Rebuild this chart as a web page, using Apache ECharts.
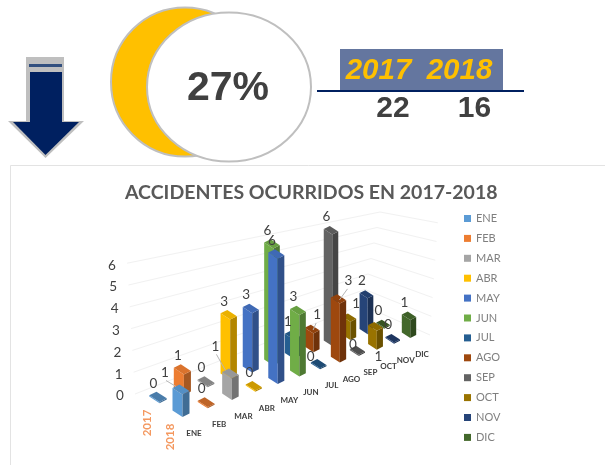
<!DOCTYPE html>
<html><head><meta charset="utf-8">
<style>html,body{margin:0;padding:0;background:#fff}#c{width:605px;height:465px;filter:blur(0.5px)}</style>
<script src="https://cdn.jsdelivr.net/npm/echarts@6/dist/echarts.min.js"></script>
</head><body><div id="c"></div>
<script>
const months = ['ENE','FEB','MAR','ABR','MAY','JUN','JUL','AGO','SEP','OCT','NOV','DIC'];
const years = ['2017','2018'];
const accidents2017 = [0,1,0,3,3,6,1,1,6,1,2,0];
const accidents2018 = [1,0,1,0,6,3,0,3,0,1,0,1];
const yTicks = [0,1,2,3,4,5,6];
const totals = [22,16];
const changeLabel = '27%';
const monthColors = ['#5B9BD5','#ED7D31','#A5A5A5','#FFC000','#4472C4','#70AD47','#255E91','#9E480E','#636363','#997300','#264478','#43682B'];

// label placement overrides, keyed "month-row" (row 1 = 2017, row 0 = 2018): dx, dy, leader line
const labelShift = {
  '7-1':[5,-14,1],'9-1':[7,-14,0],
  '0-0':[-16,-17,1],'2-0':[-15,-27,1],'7-0':[10,-18,1],'6-0':[-8,-7,0],'8-0':[-4.5,-6,0],'9-0':[3,30,0]
};

const chart = echarts.init(document.getElementById('c'));
const GL = 181, GW = 228, GB = 412, UNIT = 22;

function shade(hex, f) {
  const n = parseInt(hex.slice(1), 16);
  return 'rgb(' + [(n >> 16) & 255, (n >> 8) & 255, n & 255].map(c => Math.round(c * f)).join(',') + ')';
}

function project(api, m, row, v) {
  const p = api.coord([m, 0]);
  const t = (p[0] - GL) / GW;
  let x, y, u, s;
  if (row) {
    x = 158 + 225 * (1.21 * t - 0.21 * t * t);
    y = 398 - 0.325 * (x - 158);
    u = 21 - 0.3 * m;
    s = 1.03 - 0.022 * m;
  } else {
    x = 181 + 228 * (1.235 * t - 0.235 * t * t);
    y = 412 - 0.343 * (x - 181);
    u = 22.5 - 0.4 * m;
    s = 1 - 0.014 * m;
  }
  const unitScale = u / UNIT;
  const h = (api.coord([m, 0])[1] - api.coord([m, v])[1]) * unitScale;
  return {x, y, h, s, u};
}

function renderBar(color) {
  return function (params, api) {
    const m = api.value(0), row = api.value(1), v = api.value(2);
    const P = project(api, m, row, v);
    const ax = 7 * P.s, ay = -3.5 * P.s, bx = 10 * P.s, by = 6.5 * P.s;
    const h = Math.max(P.h, 1.2);
    const z2 = Math.round(P.y * 2);
    const L = [P.x - ax/2 - bx/2, P.y - ay/2 - by/2];
    const F = [P.x - ax/2 + bx/2, P.y - ay/2 + by/2];
    const R = [P.x + ax/2 + bx/2, P.y + ay/2 + by/2];
    const B = [P.x + ax/2 - bx/2, P.y + ay/2 - by/2];
    const up = q => [q[0], q[1] - h];
    const dark = shade(color, 0.7);
    const top = shade(color, v === 0 ? 0.8 : 0.92);
    const children = [
      {type:'polygon', z2, shape:{points:[L,F,up(F),up(L)]}, style:{fill:color}},
      {type:'polygon', z2, shape:{points:[F,R,up(R),up(F)]}, style:{fill:dark}},
      {type:'polygon', z2, shape:{points:[up(L),up(F),up(R),up(B)]}, style:{fill:top}}
    ];
    const sh = labelShift[m + '-' + row] || [-4.5, -13.5, 0];
    const lx = P.x + sh[0], ly = P.y - h + sh[1];
    if (sh[2]) {
      children.push({type:'line', z2:2000, shape:{x1:lx + (sh[0]<0?1:-1), y1:ly + 8, x2:P.x - (sh[0]<0?5:-1)*1, y2:P.y - h + (sh[0]<0?-3:1)},
        style:{stroke:'#b5b5b5', lineWidth:1}});
    }
    children.push({type:'text', z2:2001, style:{text:String(v), x:lx, y:ly, textAlign:'center', textVerticalAlign:'middle',
      font:'13.5px Lato', fill:'#404040'}});
    return {type:'group', children};
  };
}

const barSeries = months.map((name, m) => ({
  name, type:'custom', silent:true, clip:false,
  coordinateSystem:'cartesian2d', encode:{x:0, y:2},
  itemStyle:{color:monthColors[m]},
  data:[[m,1,accidents2017[m]],[m,0,accidents2018[m]]],
  renderItem:renderBar(monthColors[m])
}));

const wallSeries = {
  name:'walls', type:'custom', silent:true, clip:false, z:1,
  data:yTicks.map(v => [0, v]), encode:{x:0, y:1},
  renderItem:function (params, api) {
    const v = api.value(1);
    return {type:'polyline', shape:{points:[
      [135 - 1.3*v, 394 - 21.8*v], [362 + 3*v, 305 - 15.5*v], [430 + 1.3*v, 335 - 18.7*v]
    ]}, style:{stroke:'#f1f1f1', lineWidth:1, fill:'none'}};
  }
};

const yTickSeries = {
  name:'yTicks', type:'custom', silent:true, clip:false, z:3,
  data:yTicks.map(v => [0, v]), encode:{x:0, y:1},
  renderItem:function (params, api) {
    const v = api.value(1);
    const y = api.coord([0, v])[1];
    const base = api.coord([0, 0])[1];
    return {type:'text', style:{text:String(v), x:120 - 1.35*v, y:396 - (base - y)*0.99,
      textAlign:'center', textVerticalAlign:'middle', font:'13.5px Lato', fill:'#404040'}};
  }
};

const monthTickSeries = {
  name:'monthTicks', type:'custom', silent:true, clip:false, z:3,
  data:months.map((n, m) => [m, 0]), encode:{x:0, y:1},
  renderItem:function (params, api) {
    const m = api.value(0);
    const P = project(api, m, 0, 0);
    return {type:'text', style:{text:months[m], x:P.x + 13, y:P.y + 21,
      textAlign:'center', textVerticalAlign:'middle', font:'bold 8px Lato', fill:'#404040'}};
  }
};

const yearTickSeries = {
  name:'yearTicks', type:'custom', silent:true, clip:false, z:3,
  data:years.map((n, i) => [i, 0]), encode:{x:0, y:1},
  renderItem:function (params, api) {
    const i = api.value(0);
    const P = project(api, 0, i === 0 ? 1 : 0, 0);
    return {type:'text', x:P.x - 11, y:P.y + 25, rotation:Math.PI/2,
      style:{text:years[i], x:0, y:0, textAlign:'center', textVerticalAlign:'middle', font:'bold 11.5px Lato', fill:'#F4985F'}};
  }
};

const graphics = [
  {type:'rect', shape:{x:10.5,y:165.5,width:600,height:310}, style:{fill:'#fff', stroke:'#e3e3e3', lineWidth:1}, z:-1},
  // arrow
  {type:'polygon', shape:{points:[[26,57],[64,57],[64,121],[84,121],[45.5,158],[8,121],[26,121]]}, style:{fill:'#BFBFBF'}},
  {type:'rect', shape:{x:30,y:72,width:32,height:50}, style:{fill:'#002060'}},
  {type:'rect', shape:{x:29,y:64,width:33,height:3}, style:{fill:'#33507f'}},
  {type:'polygon', shape:{points:[[13,122],[79,122],[45.5,155]]}, style:{fill:'#002060'}},
  // moon
  {type:'ellipse', shape:{cx:185,cy:82,rx:74,ry:74.5}, style:{fill:'#FFC000', stroke:'#BFBFBF', lineWidth:2}},
  {type:'ellipse', shape:{cx:229,cy:87,rx:82,ry:74.5}, style:{fill:'#fff', stroke:'#BFBFBF', lineWidth:2}},
  {type:'text', style:{text:changeLabel, x:228, y:89, textAlign:'center', textVerticalAlign:'middle',
    font:'bold 41px "Liberation Sans"', fill:'#404040'}},
  // small table
  {type:'rect', shape:{x:340,y:49,width:163,height:42}, style:{fill:'#64769F'}},
  {type:'line', shape:{x1:317,y1:91,x2:524,y2:91}, style:{stroke:'#002060', lineWidth:2}},
  {type:'text', style:{text:years[0], x:378.5, y:71, textAlign:'center', textVerticalAlign:'middle',
    font:'italic bold 29.5px "Liberation Sans"', fill:'#FFC000'}},
  {type:'text', style:{text:years[1], x:459.5, y:71, textAlign:'center', textVerticalAlign:'middle',
    font:'italic bold 29.5px "Liberation Sans"', fill:'#FFC000'}},
  {type:'text', style:{text:String(totals[0]), x:393, y:109, textAlign:'center', textVerticalAlign:'middle',
    font:'bold 30px "Liberation Sans"', fill:'#404040'}},
  {type:'text', style:{text:String(totals[1]), x:474.5, y:109, textAlign:'center', textVerticalAlign:'middle',
    font:'bold 30px "Liberation Sans"', fill:'#404040'}}
];

chart.setOption({
  animation:false,
  backgroundColor:'#fff',
  title:{text:'ACCIDENTES OCURRIDOS EN 2017-2018', left:120, top:178,
    textStyle:{fontFamily:'Lato', fontWeight:'bold', fontSize:19.5, color:'#595959'}},
  grid:{left:GL, width:GW, top:GB - 6*UNIT, height:6*UNIT},
  xAxis:{type:'value', min:0, max:11, show:false},
  yAxis:{type:'value', min:0, max:6, show:false},
  legend:{data:months, orient:'vertical', left:459, top:208, icon:'rect', itemWidth:7, itemHeight:7, itemGap:8.9,
    selectedMode:false, textStyle:{fontFamily:'Lato', fontSize:11, color:'#7f7f7f', padding:[0,0,0,0]}},
  graphic:graphics,
  series:[wallSeries, yTickSeries, monthTickSeries, yearTickSeries].concat(barSeries)
});
</script></body></html>
